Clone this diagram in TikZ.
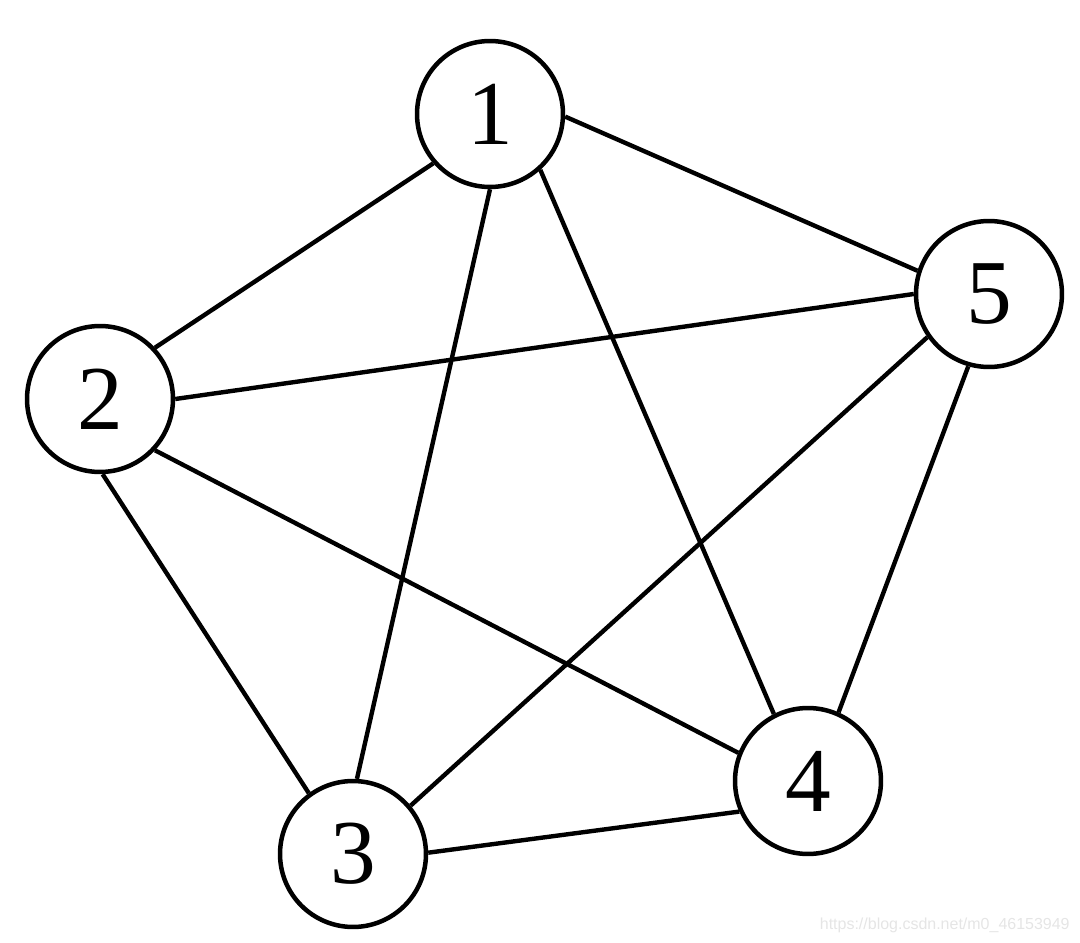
\documentclass[tikz,border=0pt]{standalone}
\usepackage{fontspec}
\setmainfont{Liberation Serif}
\newfontfamily\wmfont{Liberation Sans}
\begin{document}
\begin{tikzpicture}[x=0.02cm,y=-0.02cm,
  vertex/.style={circle,draw=black,line width=0.09cm,minimum size=2.92cm,inner sep=0pt,font=\fontsize{52}{52}\selectfont},
  edge/.style={draw=black,line width=0.088cm}]
\useasboundingbox (0,0) rectangle (1080,943);
\node[vertex] (n1) at (490,114) {1};
\node[vertex] (n2) at (100,399) {2};
\node[vertex] (n3) at (353,854) {3};
\node[vertex] (n4) at (808,781) {4};
\node[vertex] (n5) at (989,294) {5};
\draw[edge] (n1.221) -- (n2.43);
\draw[edge] (n1.270) -- (n3.87);
\draw[edge] (n1.312) -- (n4.117);
\draw[edge] (n1.358) -- (n5.162);
\draw[edge] (n2.272) -- (n3.126);
\draw[edge] (n2.317) -- (n4.158);
\draw[edge] (n2.0) -- (n5.180);
\draw[edge] (n3.1) -- (n4.204);
\draw[edge] (n3.40) -- (n5.215);
\draw[edge] (n4.66) -- (n5.254);
\node[anchor=east,inner sep=0pt,text=black!10,font=\wmfont\fontsize{9.1}{9.1}\selectfont] (wm) at (1070,925) {https://blog.csdn.net/m0\_46153949};
\end{tikzpicture}
\end{document}
